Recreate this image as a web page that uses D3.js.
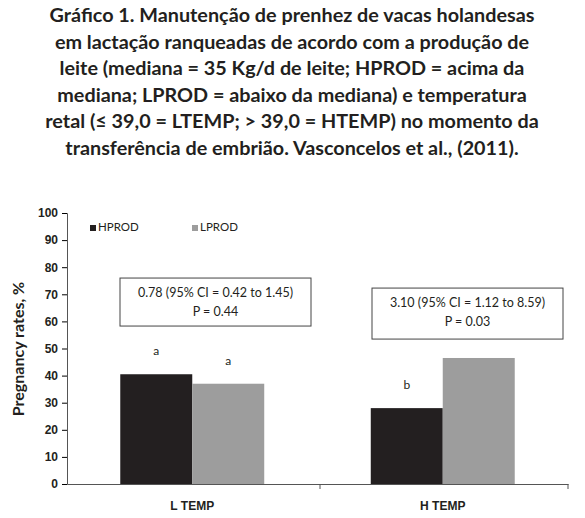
<!DOCTYPE html>
<html><head><meta charset="utf-8">
<script src="https://cdn.jsdelivr.net/npm/d3@7"></script>
<style>body{margin:0;background:#fff;font-family:Lato,"Open Sans",sans-serif}</style>
</head><body>
<svg id="chart" width="585" height="518"></svg>
<script>
const titleLines = [
  "Gráfico 1. Manutenção de prenhez de vacas holandesas",
  "em lactação ranqueadas de acordo com a produção de",
  "leite (mediana = 35 Kg/d de leite; HPROD = acima da",
  "mediana; LPROD = abaixo da mediana) e temperatura",
  "retal (≤ 39,0 = LTEMP; > 39,0 = HTEMP) no momento da",
  "transferência de embrião. Vasconcelos et al., (2011)."
];
const categories = ["L TEMP", "H TEMP"];
const seriesNames = ["HPROD", "LPROD"];
const hprod = [40.5, 28];
const lprod = [37, 46.5];
const hprodLetters = ["a", "b"];
const lprodLetters = ["a", "a"];
const boxTexts = [
  ["0.78 (95% CI = 0.42 to 1.45)", "P = 0.44"],
  ["3.10 (95% CI = 1.12 to 8.59)", "P = 0.03"]
];
const boxTops = [76, 72.3]; // in y units

const colors = {HPROD: "#231f20", LPROD: "#9d9d9d"};
const svg = d3.select("#chart");

svg.append("g").selectAll("text").data(titleLines).join("text")
  .attr("x", 292).attr("y", (d, i) => 22 + i * 26.5)
  .attr("text-anchor", "middle").attr("font-weight", "bold")
  .attr("font-size", 19.8).attr("fill", "#231f20").text(d => d);

const x = d3.scaleBand().domain(categories).range([67, 568]);
const xs = d3.scaleBand().domain(seriesNames).range([0, x.bandwidth()]).paddingInner(0).paddingOuter(0.74);
const y = d3.scaleLinear().domain([0, 100]).range([484, 213]);

const yAxis = svg.append("g").attr("transform", "translate(67,0)")
  .call(d3.axisLeft(y).ticks(10).tickSize(5).tickPadding(4));
yAxis.selectAll("text").attr("font-weight", "bold").attr("font-size", 12).attr("fill", "#231f20");
const xAxis = svg.append("g").attr("transform", "translate(0,484)")
  .call(d3.axisBottom(x).tickSize(0).tickPadding(17));
xAxis.selectAll("text").attr("font-weight", "bold").attr("font-size", 12).attr("fill", "#231f20");
svg.selectAll(".domain").attr("stroke", "#555");
svg.append("line").attr("x1", 320).attr("x2", 320).attr("y1", 484).attr("y2", 489).attr("stroke", "#555");
svg.append("line").attr("x1", 568).attr("x2", 568).attr("y1", 484).attr("y2", 489).attr("stroke", "#555");

svg.append("text").attr("transform", "translate(24,349) rotate(-90)")
  .attr("text-anchor", "middle").attr("font-weight", "bold").attr("font-size", 16)
  .attr("fill", "#231f20").text("Pregnancy rates, %");

const rows = categories.map((c, i) => ({c, vals: [
  {s: "HPROD", v: hprod[i], l: hprodLetters[i]},
  {s: "LPROD", v: lprod[i], l: lprodLetters[i]}]}));

const g = svg.append("g").selectAll("g").data(rows).join("g")
  .attr("transform", d => `translate(${x(d.c)},0)`);
g.selectAll("rect").data(d => d.vals).join("rect")
  .attr("x", d => xs(d.s)).attr("width", xs.bandwidth())
  .attr("y", d => y(d.v)).attr("height", d => y(0) - y(d.v))
  .attr("fill", d => colors[d.s]);
g.selectAll("text").data(d => d.vals).join("text")
  .attr("x", d => xs(d.s) + xs.bandwidth() / 2).attr("y", d => y(d.v) - 19)
  .attr("text-anchor", "middle").attr("font-size", 12).attr("fill", "#231f20").text(d => d.l);

// annotation boxes
const boxes = svg.append("g").selectAll("g").data(boxTexts).join("g")
  .attr("transform", (d, i) => `translate(${x(categories[i]) + (i ? 54.5 : 53)},${y(boxTops[i])})`);
boxes.append("rect").attr("width", 191).attr("height", (d, i) => i ? 51 : 48)
  .attr("fill", "#fff").attr("stroke", "#444").attr("stroke-width", 1);
boxes.selectAll("text").data(d => d).join("text")
  .attr("x", 95.5).attr("y", (d, i) => 19 + i * 19)
  .attr("text-anchor", "middle").attr("font-size", 12.5).attr("fill", "#231f20").text(d => d);

// legend
const leg = svg.append("g").selectAll("g").data(seriesNames).join("g")
  .attr("transform", (d, i) => `translate(${90 + i * 102},231)`);
leg.append("rect").attr("width", 6).attr("height", 6).attr("y", -6).attr("fill", d => colors[d]);
leg.append("text").attr("x", 8).attr("font-size", 11.5).attr("fill", "#231f20").text(d => d);
</script>
</body></html>
